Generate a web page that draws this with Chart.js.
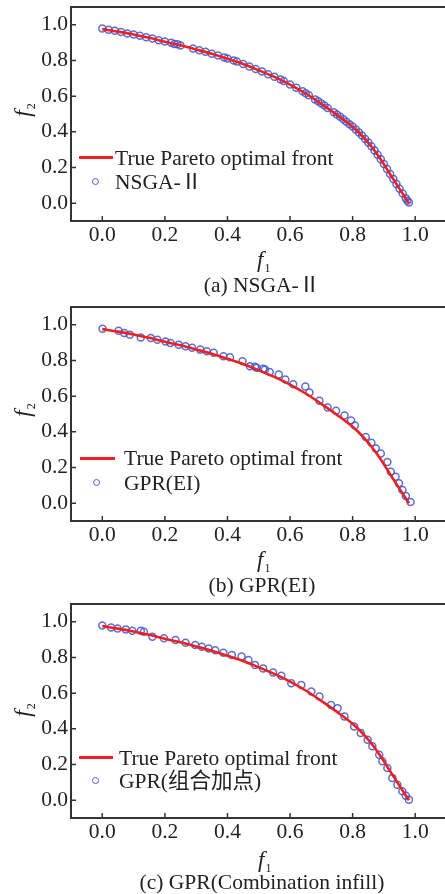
<!DOCTYPE html>
<html>
<head>
<meta charset="utf-8">
<script src="https://cdn.jsdelivr.net/npm/chart.js@4/dist/chart.umd.min.js"></script>
<style>
  body { margin: 0; width: 445px; height: 894px; overflow: hidden; background: #fff;
         font-family: 'Liberation Serif', 'Noto Sans CJK SC', serif; color: #222; }
  .panel { position: absolute; left: 0; width: 452px; height: 298px; }
  .panel canvas { position: absolute; left: 0; top: 0; }
  .lbl { position: absolute; white-space: nowrap; font-size: 21.5px; line-height: 22px; }
  .ax { position: absolute; font-style: italic; font-size: 23px; line-height: 23px; white-space: nowrap; }
  .ax sub { font-style: normal; font-size: 12px; vertical-align: -5px; margin-left: 1px; }
  .f2 { transform: translate(-50%, -50%) rotate(-90deg); }
  .cap { position: absolute; transform: translateX(-50%); font-size: 21.5px; line-height: 22px; white-space: nowrap; }
  .lg-line { position: absolute; height: 3px; background: #f02020; }
  .lg-dot { position: absolute; width: 5px; height: 5px; border: 1.5px solid #4a5ec8; border-radius: 50%; }
</style>
</head>
<body>

<div class="panel" style="top:0">
  <canvas id="c1" width="452" height="260"></canvas>
  <div class="ax f2" style="left:27px; top:110px"><span>f</span><sub>2</sub></div>
  <div class="ax" style="left:257px; top:248px">f<sub>1</sub></div>
  <div class="cap" style="left:262px; top:274px">(a) NSGA-Ⅱ</div>
  <div class="lg-line" style="left:79px; top:156px; width:34px"></div>
  <div class="lbl" style="left:115px; top:147px">True Pareto optimal front</div>
  <div class="lg-dot" style="left:92px; top:178px"></div>
  <div class="lbl" style="left:115px; top:171px">NSGA-Ⅱ</div>
</div>

<div class="panel" style="top:300px">
  <canvas id="c2" width="452" height="260"></canvas>
  <div class="ax f2" style="left:27px; top:110px"><span>f</span><sub>2</sub></div>
  <div class="ax" style="left:257px; top:248px">f<sub>1</sub></div>
  <div class="cap" style="left:262px; top:274px">(b) GPR(EI)</div>
  <div class="lg-line" style="left:80px; top:157px; width:35px"></div>
  <div class="lbl" style="left:124px; top:147px">True Pareto optimal front</div>
  <div class="lg-dot" style="left:93px; top:179px"></div>
  <div class="lbl" style="left:124px; top:172px">GPR(EI)</div>
</div>

<div class="panel" style="top:597px">
  <canvas id="c3" width="452" height="260"></canvas>
  <div class="ax f2" style="left:27px; top:113px"><span>f</span><sub>2</sub></div>
  <div class="ax" style="left:258px; top:251px">f<sub>1</sub></div>
  <div class="cap" style="left:262px; top:274px">(c) GPR(Combination infill)</div>
  <div class="lg-line" style="left:79px; top:159px; width:34px"></div>
  <div class="lbl" style="left:119px; top:150px">True Pareto optimal front</div>
  <div class="lg-dot" style="left:92px; top:180px"></div>
  <div class="lbl" style="left:119px; top:173px">GPR(组合加点)</div>
</div>

<script>
// axis ticks (both axes)
const tickValues = [0, 0.2, 0.4, 0.6, 0.8, 1.0];

// true Pareto optimal front
const paretoF1 = [0, 0.05, 0.1, 0.15, 0.2, 0.25, 0.3, 0.35, 0.4, 0.45, 0.5, 0.55, 0.6, 0.65, 0.7, 0.75, 0.8, 0.83, 0.86, 0.89, 0.92, 0.95, 0.98];
const paretoF2 = [0.976, 0.962, 0.946, 0.927, 0.905, 0.885, 0.862, 0.838, 0.81, 0.78, 0.745, 0.708, 0.665, 0.615, 0.557, 0.495, 0.428, 0.378, 0.318, 0.245, 0.162, 0.08, 0.0];

// (a) NSGA-II
const nsgaF1 = [0.00, 0.02, 0.04, 0.06, 0.08, 0.10, 0.12, 0.14, 0.16, 0.18, 0.20, 0.22, 0.23, 0.24, 0.25, 0.29, 0.31, 0.33, 0.35, 0.37, 0.39, 0.40, 0.42, 0.43, 0.45, 0.47, 0.49, 0.51, 0.53, 0.55, 0.57, 0.58, 0.60, 0.62, 0.64, 0.65, 0.66, 0.68, 0.69, 0.70, 0.71, 0.72, 0.74, 0.75, 0.76, 0.77, 0.78, 0.79, 0.80, 0.81, 0.82, 0.83, 0.84, 0.85, 0.86, 0.87, 0.88, 0.89, 0.90, 0.91, 0.92, 0.93, 0.94, 0.95, 0.96, 0.97, 0.975, 0.98];
const nsgaF2 = [0.980, 0.972, 0.967, 0.960, 0.952, 0.946, 0.939, 0.931, 0.923, 0.914, 0.906, 0.899, 0.893, 0.891, 0.884, 0.867, 0.857, 0.849, 0.838, 0.828, 0.817, 0.811, 0.800, 0.795, 0.781, 0.767, 0.752, 0.739, 0.723, 0.709, 0.694, 0.685, 0.666, 0.647, 0.627, 0.617, 0.605, 0.582, 0.571, 0.559, 0.547, 0.534, 0.510, 0.497, 0.484, 0.470, 0.457, 0.443, 0.430, 0.413, 0.396, 0.379, 0.360, 0.340, 0.319, 0.296, 0.271, 0.246, 0.219, 0.191, 0.163, 0.136, 0.108, 0.081, 0.054, 0.028, 0.014, 0.004];

// (b) GPR(EI)
const eiF1 = [0.001, 0.052, 0.07, 0.088, 0.123, 0.155, 0.176, 0.202, 0.218, 0.244, 0.266, 0.287, 0.313, 0.334, 0.356, 0.387, 0.408, 0.448, 0.472, 0.488, 0.493, 0.514, 0.52, 0.535, 0.564, 0.585, 0.61, 0.649, 0.662, 0.694, 0.72, 0.747, 0.774, 0.795, 0.807, 0.842, 0.86, 0.874, 0.89, 0.911, 0.922, 0.937, 0.948, 0.959, 0.97, 0.985];
const eiF2 = [0.978, 0.967, 0.954, 0.944, 0.929, 0.926, 0.917, 0.907, 0.898, 0.889, 0.880, 0.871, 0.861, 0.852, 0.843, 0.824, 0.818, 0.796, 0.768, 0.765, 0.759, 0.754, 0.750, 0.735, 0.722, 0.694, 0.667, 0.654, 0.620, 0.574, 0.537, 0.518, 0.491, 0.463, 0.435, 0.371, 0.339, 0.306, 0.278, 0.231, 0.176, 0.148, 0.111, 0.074, 0.040, 0.006];

// (c) GPR(combination infill)
const comboF1 = [0.0, 0.028, 0.049, 0.075, 0.096, 0.123, 0.133, 0.16, 0.197, 0.234, 0.266, 0.297, 0.318, 0.34, 0.361, 0.387, 0.414, 0.445, 0.467, 0.488, 0.514, 0.546, 0.572, 0.604, 0.636, 0.668, 0.694, 0.731, 0.752, 0.774, 0.805, 0.826, 0.848, 0.863, 0.885, 0.895, 0.911, 0.927, 0.943, 0.959, 0.97, 0.98];
const comboF2 = [0.980, 0.968, 0.962, 0.957, 0.950, 0.950, 0.945, 0.917, 0.908, 0.898, 0.883, 0.870, 0.860, 0.851, 0.841, 0.827, 0.814, 0.805, 0.786, 0.758, 0.739, 0.716, 0.698, 0.655, 0.646, 0.609, 0.581, 0.534, 0.516, 0.469, 0.413, 0.376, 0.339, 0.302, 0.255, 0.218, 0.180, 0.125, 0.087, 0.050, 0.025, 0.003];

const toXY = (xs, ys) => xs.map((x, i) => ({ x: x, y: ys[i] }));

const framePlugin = {
  id: 'frame',
  afterDatasetsDraw(chart) {
    const { ctx, chartArea: a, scales } = chart;
    ctx.save();
    ctx.strokeStyle = '#333';
    ctx.lineWidth = 2;
    ctx.strokeRect(a.left, a.top, a.right - a.left, a.bottom - a.top);
    ctx.lineWidth = 1.5;
    ctx.beginPath();
    scales.x.ticks.forEach(t => {
      const px = scales.x.getPixelForValue(t.value);
      ctx.moveTo(px, a.bottom);
      ctx.lineTo(px, a.bottom - 5);
    });
    scales.y.ticks.forEach(t => {
      const py = scales.y.getPixelForValue(t.value);
      ctx.moveTo(a.left, py);
      ctx.lineTo(a.left + 5, py);
    });
    ctx.stroke();
    ctx.restore();
  }
};

const tickFont = { family: 'Liberation Serif', size: 21.5 };

function makePanel(id, xs, ys) {
  return new Chart(document.getElementById(id), {
    type: 'scatter',
    data: {
      datasets: [
        {
          data: toXY(paretoF1, paretoF2),
          showLine: true,
          borderColor: '#f02020',
          borderWidth: 2.6,
          pointRadius: 0,
          cubicInterpolationMode: 'monotone',
        },
        {
          data: toXY(xs, ys),
          pointRadius: 3.5,
          pointBorderWidth: 1.5,
          pointBorderColor: 'rgba(65, 85, 200, 0.85)',
          pointBackgroundColor: 'rgba(0,0,0,0)',
        },
      ],
    },
    options: {
      responsive: false,
      animation: false,
      devicePixelRatio: 1,
      layout: { padding: { top: 7, right: 2, left: 0, bottom: 0 } },
      plugins: { legend: { display: false }, tooltip: { enabled: false } },
      scales: {
        x: {
          type: 'linear',
          min: -0.1,
          max: 1.1,
          afterBuildTicks: s => { s.ticks = tickValues.map(v => ({ value: v })); },
          afterFit: s => { s.height = 39; s.paddingLeft = 0; s.paddingRight = 0; },
          grid: { display: false, drawTicks: false },
          border: { display: false },
          ticks: { font: tickFont, color: '#222', padding: 1, maxRotation: 0, callback: v => v.toFixed(1) },
        },
        y: {
          min: -0.1,
          max: 1.1,
          afterBuildTicks: s => { s.ticks = tickValues.map(v => ({ value: v })); },
          afterFit: s => { s.width = 71; s.paddingTop = 0; s.paddingBottom = 0; },
          grid: { display: false, drawTicks: false },
          border: { display: false },
          ticks: { font: tickFont, color: '#222', padding: 3, callback: v => v.toFixed(1) },
        },
      },
    },
    plugins: [framePlugin],
  });
}

makePanel('c1', nsgaF1, nsgaF2);
makePanel('c2', eiF1, eiF2);
makePanel('c3', comboF1, comboF2);
</script>
</body>
</html>
